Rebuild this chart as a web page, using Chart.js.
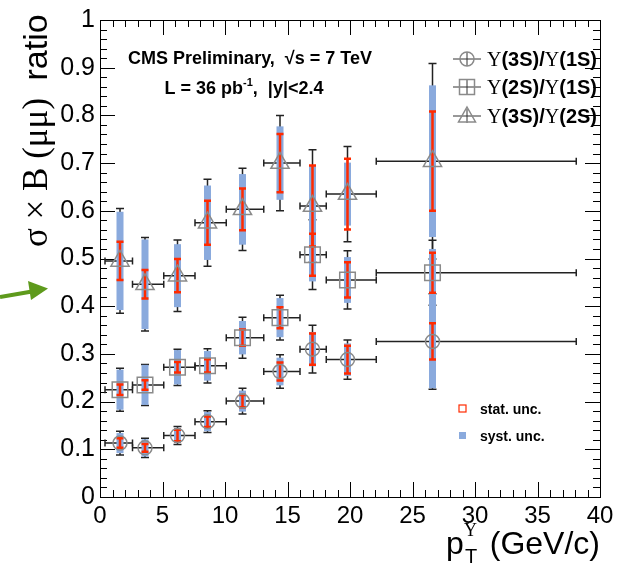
<!DOCTYPE html>
<html>
<head>
<meta charset="utf-8">
<script src="https://cdn.jsdelivr.net/npm/chart.js@4/dist/chart.umd.min.js"></script>
<style>
body { margin: 0; background: #fff; }
</style>
</head>
<body>
<canvas id="chart" width="623" height="565"></canvas>
<script>
// pT bin mean and bin edges (GeV/c)
const ptMean = [1.6, 3.6, 6.2, 8.6, 11.4, 14.4, 17.0, 19.8, 26.6];
const binLow = [0.4, 2.6, 5.1, 7.6, 10.1, 13.1, 16.0, 18.1, 22.1];
const binHigh = [2.6, 5.1, 7.6, 10.1, 13.1, 16.0, 18.1, 22.1, 38.1];

// Y(3S)/Y(1S)
const ratio31 = [0.113, 0.103, 0.129, 0.158, 0.201, 0.263, 0.310, 0.288, 0.326];
const stat31 = [0.010, 0.008, 0.012, 0.011, 0.013, 0.019, 0.033, 0.029, 0.038];
const syst31 = [0.021, 0.018, 0.016, 0.020, 0.022, 0.029, 0.036, 0.034, 0.098];
const tot31 = [0.025, 0.020, 0.019, 0.023, 0.027, 0.035, 0.050, 0.041, 0.100];

// Y(2S)/Y(1S)
const ratio21 = [0.225, 0.235, 0.272, 0.275, 0.334, 0.376, 0.508, 0.455, 0.470];
const stat21 = [0.011, 0.010, 0.011, 0.014, 0.017, 0.022, 0.044, 0.037, 0.042];
const syst21 = [0.042, 0.042, 0.036, 0.031, 0.035, 0.041, 0.056, 0.048, 0.050];
const tot21 = [0.045, 0.043, 0.038, 0.036, 0.043, 0.047, 0.073, 0.061, 0.068];

// Y(3S)/Y(2S)
const ratio32 = [0.495, 0.446, 0.464, 0.575, 0.603, 0.700, 0.610, 0.635, 0.704];
const stat32 = [0.040, 0.030, 0.035, 0.046, 0.044, 0.061, 0.085, 0.074, 0.104];
const syst32 = [0.103, 0.094, 0.066, 0.078, 0.074, 0.077, 0.086, 0.066, 0.159];
const tot32 = [0.110, 0.098, 0.075, 0.091, 0.086, 0.100, 0.118, 0.100, 0.205];

const seriesNames = ['(3S)/', '(2S)/', '(3S)/'];
const seriesDenoms = ['(1S)', '(1S)', '(2S)'];

const SANS = '"Liberation Sans", Arial, sans-serif';
const SERIF = '"Liberation Serif", "Times New Roman", serif';
const markerColor = '#8a8a8a';
const systColor = '#8aaadd';
const statColor = '#ff2a00';

function makeSet(vals, stat, syst, tot, style, radius) {
  return {
    data: ptMean.map((x, i) => ({ x: x, y: vals[i] })),
    stat: stat, syst: syst, tot: tot,
    pointStyle: style,
    pointRadius: radius,
    pointHoverRadius: radius,
    borderColor: markerColor,
    backgroundColor: 'rgba(0,0,0,0)',
    pointBorderWidth: 1.5,
    showLine: false
  };
}

function richText(ctx, parts, x, y, align) {
  let w = 0;
  parts.forEach(p => { ctx.font = p.font; p.w = ctx.measureText(p.t).width; w += p.w; });
  let cx = align === 'center' ? x - w / 2 : (align === 'right' ? x - w : x);
  ctx.textAlign = 'left';
  parts.forEach(p => {
    ctx.font = p.font;
    ctx.fillText(p.t, cx, y + (p.dy || 0));
    cx += p.w;
  });
}

const rootStyle = {
  id: 'rootStyle',
  beforeDatasetsDraw(chart) {
    const ctx = chart.ctx;
    const xs = chart.scales.x, ys = chart.scales.y;
    const a = chart.chartArea;
    ctx.save();
    // frame and ticks
    ctx.strokeStyle = '#000';
    ctx.lineWidth = 1;
    ctx.strokeRect(a.left + 0.5, a.top + 0.5, a.right - a.left, a.bottom - a.top);
    ctx.beginPath();
    for (let i = 0; i <= 50; i++) {
      const py = Math.round(ys.getPixelForValue(i * 0.02)) + 0.5;
      const len = i % 5 === 0 ? 15 : 7;
      ctx.moveTo(a.left, py); ctx.lineTo(a.left + len, py);
      ctx.moveTo(a.right, py); ctx.lineTo(a.right - len, py);
    }
    for (let i = 0; i <= 40; i++) {
      const px = Math.round(xs.getPixelForValue(i)) + 0.5;
      const len = i % 5 === 0 ? 15 : 7;
      ctx.moveTo(px, a.bottom); ctx.lineTo(px, a.bottom - len);
      ctx.moveTo(px, a.top); ctx.lineTo(px, a.top + len);
    }
    ctx.stroke();

    // error bars
    chart.data.datasets.forEach(ds => {
      ds.data.forEach((p, i) => {
        const px = xs.getPixelForValue(p.x);
        const py = ys.getPixelForValue(p.y);
        const xl = xs.getPixelForValue(binLow[i]);
        const xh = xs.getPixelForValue(binHigh[i]);
        const yt = ys.getPixelForValue(p.y + ds.tot[i]);
        const yb = ys.getPixelForValue(p.y - ds.tot[i]);
        ctx.strokeStyle = '#222';
        ctx.lineWidth = 1.5;
        ctx.beginPath();
        ctx.moveTo(xl, py); ctx.lineTo(xh, py);
        ctx.moveTo(xl, py - 3.5); ctx.lineTo(xl, py + 3.5);
        ctx.moveTo(xh, py - 3.5); ctx.lineTo(xh, py + 3.5);
        ctx.moveTo(px, yt); ctx.lineTo(px, yb);
        ctx.moveTo(px - 4, yt); ctx.lineTo(px + 4, yt);
        ctx.moveTo(px - 4, yb); ctx.lineTo(px + 4, yb);
        ctx.stroke();
      });
    });
    chart.data.datasets.forEach(ds => {
      ds.data.forEach((p, i) => {
        const px = xs.getPixelForValue(p.x);
        const st = ys.getPixelForValue(p.y + ds.syst[i]);
        const sb = ys.getPixelForValue(p.y - ds.syst[i]);
        ctx.fillStyle = systColor;
        ctx.fillRect(px - 3.5, st, 7, sb - st);
      });
    });
    chart.data.datasets.forEach(ds => {
      ds.data.forEach((p, i) => {
        const px = xs.getPixelForValue(p.x);
        const rt = ys.getPixelForValue(p.y + ds.stat[i]);
        const rb = ys.getPixelForValue(p.y - ds.stat[i]);
        ctx.strokeStyle = statColor;
        ctx.lineWidth = 2.5;
        ctx.beginPath();
        ctx.moveTo(px, rt); ctx.lineTo(px, rb);
        ctx.moveTo(px - 3.5, rt); ctx.lineTo(px + 3.5, rt);
        ctx.moveTo(px - 3.5, rb); ctx.lineTo(px + 3.5, rb);
        ctx.stroke();
      });
    });
    ctx.restore();
  },
  afterDraw(chart) {
    const ctx = chart.ctx;
    ctx.save();
    ctx.fillStyle = '#000';
    ctx.textBaseline = 'alphabetic';

    // header text
    richText(ctx, [
      { t: 'CMS Preliminary,  ', font: 'bold 18px ' + SANS },
      { t: '\u221As = 7 TeV', font: 'bold 18px ' + SANS }
    ], 250, 64, 'center');
    richText(ctx, [
      { t: 'L = 36 pb', font: 'bold 18px ' + SANS },
      { t: '-1', font: 'bold 11px ' + SANS, dy: -8 },
      { t: ',  |y|<2.4', font: 'bold 18px ' + SANS }
    ], 244, 94, 'center');

    // legend with markers
    const legY = [59, 87, 116];
    const styles = ['circle', 'rect', 'triangle'];
    legY.forEach((ly, k) => {
      const mx = 467;
      ctx.strokeStyle = '#333';
      ctx.lineWidth = 1;
      ctx.beginPath();
      ctx.moveTo(453, ly); ctx.lineTo(481, ly);
      ctx.moveTo(mx, ly - 7); ctx.lineTo(mx, ly + 7);
      ctx.stroke();
      ctx.strokeStyle = markerColor;
      ctx.lineWidth = 1.5;
      ctx.beginPath();
      if (styles[k] === 'circle') {
        ctx.arc(mx, ly, 7, 0, Math.PI * 2);
      } else if (styles[k] === 'rect') {
        ctx.rect(mx - 7.5, ly - 7.5, 15, 15);
      } else {
        ctx.moveTo(mx, ly - 9); ctx.lineTo(mx + 8.5, ly + 6); ctx.lineTo(mx - 8.5, ly + 6); ctx.closePath();
      }
      ctx.stroke();
      ctx.fillStyle = '#000';
      richText(ctx, [
        { t: '\u03A5', font: '20px ' + SERIF },
        { t: seriesNames[k], font: 'bold 20px ' + SANS },
        { t: '\u03A5', font: '20px ' + SERIF },
        { t: seriesDenoms[k], font: 'bold 20px ' + SANS }
      ], 487, ly + 7, 'left');
    });

    // stat / syst legend
    ctx.strokeStyle = statColor;
    ctx.lineWidth = 1.2;
    ctx.strokeRect(459, 405, 7, 7);
    ctx.fillStyle = systColor;
    ctx.fillRect(459, 432, 7, 7);
    ctx.fillStyle = '#000';
    ctx.font = 'bold 14px ' + SANS;
    ctx.fillText('stat. unc.', 480, 414);
    ctx.fillText('syst. unc.', 480, 441);

    // y axis title
    ctx.save();
    ctx.translate(47, 247);
    ctx.rotate(-Math.PI / 2);
    richText(ctx, [
      { t: '\u03C3 \u00D7 B (\u03BC\u03BC)  ', font: '35px ' + SERIF },
      { t: 'ratio', font: '34px ' + SANS }
    ], 0, 0, 'left');
    ctx.restore();

    // x axis title
    ctx.font = '32px ' + SANS;
    const rest = ' (GeV/c)';
    const restW = ctx.measureText(rest).width;
    const restX = 600 - restW;
    ctx.fillText(rest, restX, 554);
    ctx.font = '20px ' + SANS;
    ctx.fillText('T', restX - 16, 563);
    ctx.font = '18px ' + SERIF;
    ctx.fillText('\u03A5', restX - 17, 536);
    ctx.font = '32px ' + SANS;
    const pW = ctx.measureText('p').width;
    ctx.fillText('p', restX - 17 - pW, 554);

    // green arrow
    ctx.strokeStyle = '#5e9a1c';
    ctx.fillStyle = '#5e9a1c';
    ctx.lineWidth = 4;
    ctx.beginPath();
    ctx.moveTo(0, 297); ctx.lineTo(32, 291.5);
    ctx.stroke();
    ctx.beginPath();
    ctx.moveTo(48, 288.5); ctx.lineTo(28, 281); ctx.lineTo(31, 300); ctx.closePath();
    ctx.fill();
    ctx.restore();
  }
};

const chart = new Chart(document.getElementById('chart'), {
  type: 'scatter',
  data: {
    datasets: [
      makeSet(ratio31, stat31, syst31, tot31, 'circle', 7),
      makeSet(ratio21, stat21, syst21, tot21, 'rect', 11),
      makeSet(ratio32, stat32, syst32, tot32, 'triangle', 10.5)
    ]
  },
  options: {
    responsive: false,
    animation: false,
    devicePixelRatio: 1,
    layout: { padding: { top: 15, right: 23, left: 0, bottom: 0 } },
    plugins: { legend: { display: false }, tooltip: { enabled: false } },
    scales: {
      x: {
        type: 'linear', min: 0, max: 40,
        grid: { display: false, drawTicks: false },
        border: { display: false },
        ticks: {
          stepSize: 5, padding: 5, color: '#000',
          font: { family: SANS, size: 24 },
          maxRotation: 0
        },
        afterFit(s) { s.height = 68; }
      },
      y: {
        type: 'linear', min: 0, max: 1,
        grid: { display: false, drawTicks: false },
        border: { display: false },
        ticks: {
          stepSize: 0.1, padding: 5, color: '#000',
          font: { family: SANS, size: 25 },
          callback: v => String(Math.round(v * 10) / 10)
        },
        afterFit(s) { s.width = 100; }
      }
    }
  },
  plugins: [rootStyle]
});
</script>
</body>
</html>
